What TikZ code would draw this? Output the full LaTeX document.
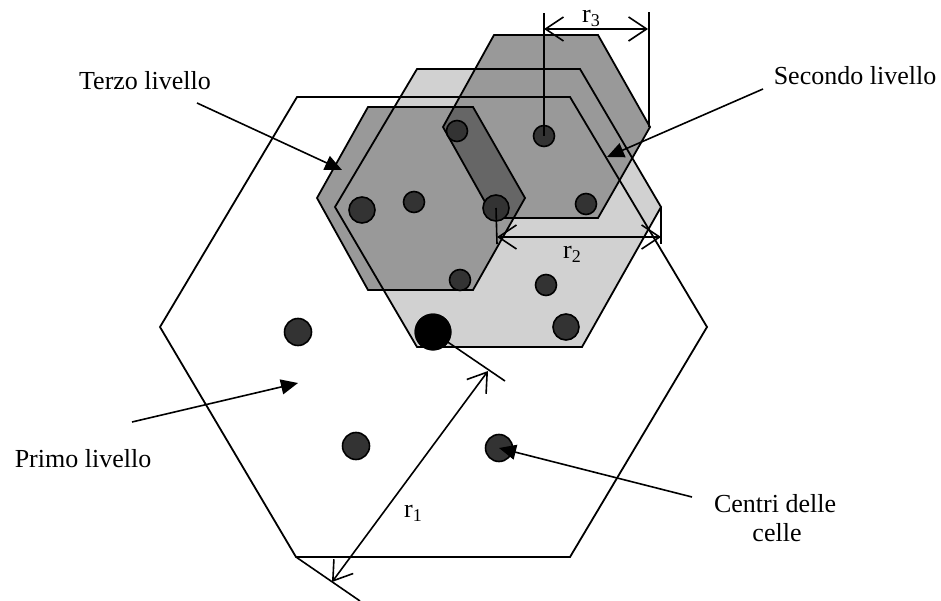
\documentclass[tikz,border=0pt]{standalone}
\usepackage{fontspec}
\setmainfont{Liberation Serif}
\usetikzlibrary{arrows.meta}
\begin{document}
\begin{tikzpicture}[x=1pt,y=-1pt,
  hexline/.style={line width=1.8pt, line join=miter},
  cell/.style={circle, draw=black, line width=1.6pt, fill=black!80, inner sep=0pt},
  bigcell/.style={circle, fill=black, inner sep=0pt, minimum size=37pt},
  lbl/.style={inner sep=0pt, font=\fontsize{26}{30}\selectfont},
  dimtxt/.style={inner sep=0pt, anchor=base west, font=\fontsize{26}{30}\selectfont},
  extline/.style={line width=1.6pt},
  barbtip/.tip={Straight Barb[length=18pt,width=24pt,line width=1.6pt]},
  dimline/.style={line width=1.6pt, barbtip-barbtip},
  callout/.style={line width=1.6pt, -{Triangle[length=17pt,width=15pt]}},
]
\useasboundingbox (0,0) rectangle (941,601);

% hexagon outlines as reusable paths
\def\hexP{(160,327) -- (297,97) -- (570,97) -- (707,327) -- (570,557) -- (296,557) -- cycle}
\def\hexL{(335,207) -- (417,69) -- (580,69) -- (661,207) -- (582,347) -- (417,347) -- cycle}
\def\hexA{(317,198) -- (368,107) -- (473,107) -- (525,198) -- (473,290) -- (368,290) -- cycle}
\def\hexB{(443,127) -- (494,35) -- (598,35) -- (650,127) -- (598,218) -- (494,218) -- cycle}

% shaded cells
\fill[black!18] \hexL;
\fill[black!40] \hexA;
\fill[black!40] \hexB;
\begin{scope}
  \clip \hexA;
  \fill[black!60] \hexB;
\end{scope}

% outlines on top of the fills
\draw[hexline] \hexP;
\draw[hexline] \hexL;
\draw[hexline] \hexA;
\draw[hexline] \hexB;

% cell centres
\node[cell, minimum size=27pt] (c1) at (298,332) {};
\node[cell, minimum size=27pt] (c2) at (356,446) {};
\node[cell, minimum size=27pt] (c3) at (499,448) {};
\node[cell, minimum size=26pt] (c4) at (566,327) {};
\node[cell, minimum size=21pt] (c5) at (546,285) {};
\node[cell, minimum size=21pt] (c6) at (460,280) {};
\node[cell, minimum size=26pt] (c7) at (362,210) {};
\node[cell, minimum size=21pt] (c8) at (414,202) {};
\node[cell, minimum size=26pt] (c9) at (496,208) {};
\node[cell, minimum size=21pt] (c10) at (457,131) {};
\node[cell, minimum size=21pt] (c11) at (544,136) {};
\node[cell, minimum size=21pt] (c12) at (586,204) {};

% dimension r3
\coordinate (r3a) at (544,13);
\coordinate (r3b) at (649,12);
\coordinate (r3c) at (649,127);
\coordinate (r3l) at (544,29);
\coordinate (r3r) at (648,29);
\draw[extline] (c11.center) -- (r3a);
\draw[extline] (r3c) -- (r3b);
\draw[dimline] (r3l) -- (r3r);
\node[dimtxt] (r3t) at (582,23) {r\raisebox{-4pt}{\fontsize{18}{20}\selectfont 3}};

% dimension r2
\coordinate (r2a) at (497,244);
\coordinate (r2b) at (661,207);
\coordinate (r2c) at (661,244);
\coordinate (r2l) at (497,237);
\coordinate (r2r) at (661,237);
\draw[extline] (c9.center) -- (r2a);
\draw[extline] (r2b) -- (r2c);
\draw[dimline] (r2l) -- (r2r);
\node[dimtxt] (r2t) at (563,259) {r\raisebox{-4pt}{\fontsize{18}{20}\selectfont 2}};

% dimension r1
\coordinate (r1v) at (296,557);
\coordinate (r1e) at (360,601);
\coordinate (r1f) at (505,381);
\coordinate (r1l) at (332,582);
\coordinate (r1u) at (488,371);
\node[bigcell] (c0) at (433,332) {};
\draw[extline] (r1v) -- (r1e);
\draw[extline] (c0.center) -- (r1f);
\node[bigcell] at (c0) {};
\draw[dimline] (r1l) -- (r1u);
\node[dimtxt] (r1t) at (404,517) {r\raisebox{-4pt}{\fontsize{18}{20}\selectfont 1}};

% labels and their pointers
\node[lbl, anchor=base] (terzo) at (145,90) {Terzo livello};
\node[lbl, anchor=base] (secondo) at (855,85) {Secondo livello};
\node[lbl, anchor=base] (primo) at (83,467) {Primo livello};
\node[lbl, anchor=base] (centri) at (775,512) {Centri delle};
\node[lbl, anchor=base] (celle) at (777,541) {celle};

\coordinate (terzoS) at (197,103);
\coordinate (terzoT) at (342,170);
\coordinate (secS) at (763,89);
\coordinate (secT) at (607,157);
\coordinate (primoS) at (132,422);
\coordinate (primoT) at (298,383);
\coordinate (centriS) at (692,497);
\draw[callout] (terzoS) -- (terzoT);
\draw[callout] (secS) -- (secT);
\draw[callout] (primoS) -- (primoT);
\draw[callout] (centriS) -- (c3.center);
\end{tikzpicture}
\end{document}
